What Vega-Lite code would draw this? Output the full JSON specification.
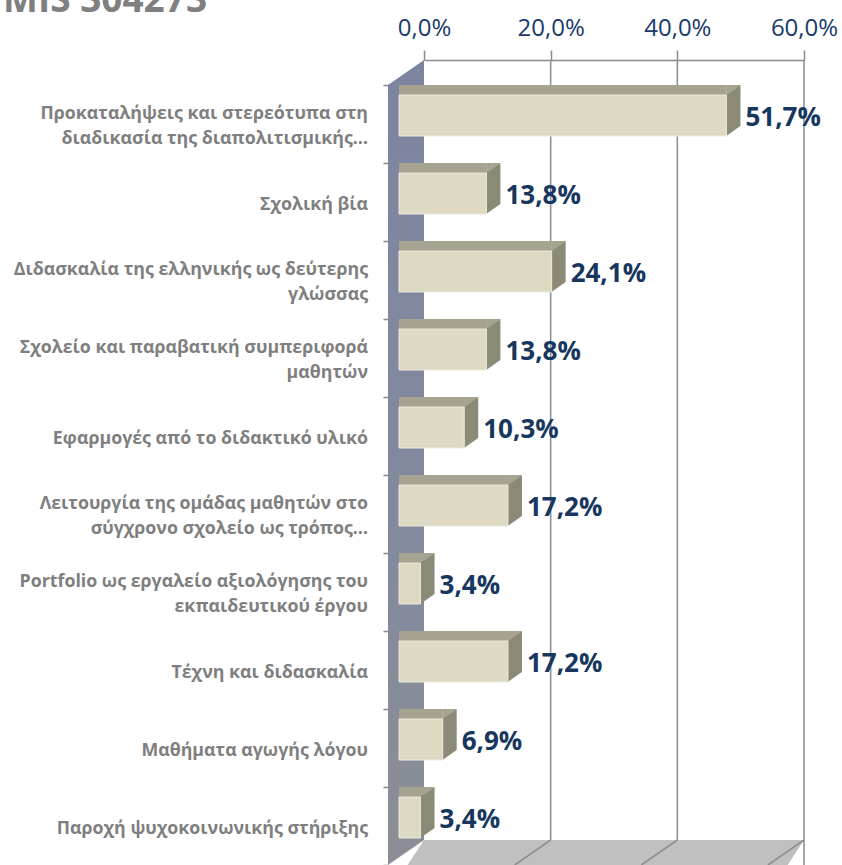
{
  "$schema": "https://vega.github.io/schema/vega-lite/v6.json",
  "width": 380,
  "height": 780,
  "autosize": {"type": "none"},
  "padding": {"left": 424, "top": 85, "right": 38, "bottom": 0},
  "background": "white",
  "title": {
    "text": "MIS 304273",
    "anchor": "start",
    "frame": "group",
    "font": "Open Sans",
    "fontSize": 37,
    "fontWeight": "bold",
    "color": "#7f7f7f",
    "baseline": "alphabetic",
    "dx": -421,
    "dy": 33,
    "offset": 0
  },
  "datasets": {
    "topics": [
      {"topic": "Προκαταλήψεις και στερεότυπα στη διαδικασία της διαπολιτισμικής…", "l1": "Προκαταλήψεις και στερεότυπα στη", "l2": "διαδικασία της διαπολιτισμικής…", "pct": 51.7, "label": "51,7%"},
      {"topic": "Σχολική βία", "l1": "Σχολική βία", "l2": "", "pct": 13.8, "label": "13,8%"},
      {"topic": "Διδασκαλία της ελληνικής ως δεύτερης γλώσσας", "l1": "Διδασκαλία της ελληνικής ως δεύτερης", "l2": "γλώσσας", "pct": 24.1, "label": "24,1%"},
      {"topic": "Σχολείο και παραβατική συμπεριφορά μαθητών", "l1": "Σχολείο και παραβατική συμπεριφορά", "l2": "μαθητών", "pct": 13.8, "label": "13,8%"},
      {"topic": "Εφαρμογές από το διδακτικό υλικό", "l1": "Εφαρμογές από το διδακτικό υλικό", "l2": "", "pct": 10.3, "label": "10,3%"},
      {"topic": "Λειτουργία της ομάδας μαθητών στο σύγχρονο σχολείο ως τρόπος…", "l1": "Λειτουργία της ομάδας μαθητών στο", "l2": "σύγχρονο σχολείο ως τρόπος…", "pct": 17.2, "label": "17,2%"},
      {"topic": "Portfolio ως εργαλείο αξιολόγησης του εκπαιδευτικού έργου", "l1": "Portfolio ως εργαλείο αξιολόγησης του", "l2": "εκπαιδευτικού έργου", "pct": 3.4, "label": "3,4%"},
      {"topic": "Τέχνη και διδασκαλία", "l1": "Τέχνη και διδασκαλία", "l2": "", "pct": 17.2, "label": "17,2%"},
      {"topic": "Μαθήματα αγωγής λόγου", "l1": "Μαθήματα αγωγής λόγου", "l2": "", "pct": 6.9, "label": "6,9%"},
      {"topic": "Παροχή ψυχοκοινωνικής στήριξης", "l1": "Παροχή ψυχοκοινωνικής στήριξης", "l2": "", "pct": 3.4, "label": "3,4%"}
    ],
    "grid": [{"g": 20}, {"g": 40}, {"g": 60}],
    "frame": [{"part": "box"}]
  },
  "layer": [
    {
      "data": {"name": "grid"},
      "mark": {"type": "rule", "color": "#8a909c", "strokeWidth": 1.6, "yOffset": -25, "y2Offset": -25},
      "encoding": {"x": {"field": "g", "type": "quantitative", "scale": {"domain": [0, 60], "nice": false}}}
    },
    {
      "data": {"name": "frame"},
      "mark": {
        "type": "point", "filled": true, "opacity": 1, "color": "#c0c0c0", "strokeWidth": 0,
        "size": 640000,
        "shape": "M0,0.9125L0.95,0.9125L0.86,1.05L-0.09,1.05Z"
      },
      "encoding": {"x": {"datum": 0, "type": "quantitative"}}
    },
    {
      "data": {"name": "frame"},
      "mark": {
        "type": "point", "filled": false, "opacity": 1, "stroke": "#8c8f96", "strokeWidth": 1.6,
        "size": 640000,
        "shape": "M0.3167,0.9125L0.2267,0.975M0.6333,0.9125L0.5433,0.975M0.95,0.9125L0.86,0.975"
      },
      "encoding": {"x": {"datum": 0, "type": "quantitative"}}
    },
    {
      "data": {"name": "frame"},
      "mark": {
        "type": "point", "filled": true, "opacity": 1, "strokeWidth": 0,
        "size": 640000,
        "shape": "M0,-1.0375L0,0.9125L-0.09,0.975L-0.09,-0.975Z",
        "color": {
          "gradient": "linear", "x1": 0, "y1": 0, "x2": 0, "y2": 1,
          "stops": [
            {"offset": 0, "color": "#7d84a0"},
            {"offset": 0.6, "color": "#838a9e"},
            {"offset": 1, "color": "#8b8e95"}
          ]
        }
      },
      "encoding": {"x": {"datum": 0, "type": "quantitative"}}
    },
    {
      "data": {"name": "topics"},
      "mark": {"type": "bar", "color": "#a6a491", "size": 10, "xOffset": -25, "x2Offset": -11, "yOffset": -34, "y2Offset": -34},
      "encoding": {
        "y": {"field": "topic", "type": "nominal", "sort": null},
        "x": {"field": "pct", "type": "quantitative"}
      }
    },
    {
      "data": {"name": "topics"},
      "mark": {"type": "point", "filled": true, "opacity": 1, "color": "#a6a491", "strokeWidth": 0, "size": 6400,
        "shape": "M-0.63,-0.725L-0.27,-0.975L-0.27,-0.725Z"},
      "encoding": {
        "y": {"field": "topic", "type": "nominal", "sort": null},
        "x": {"datum": 0, "type": "quantitative"}
      }
    },
    {
      "data": {"name": "topics"},
      "mark": {"type": "point", "filled": true, "opacity": 1, "color": "#a6a491", "strokeWidth": 0, "size": 6400,
        "shape": "M-0.63,-0.975L-0.27,-0.975L-0.63,-0.72Z"},
      "encoding": {
        "y": {"field": "topic", "type": "nominal", "sort": null},
        "x": {"field": "pct", "type": "quantitative"}
      }
    },
    {
      "data": {"name": "topics"},
      "mark": {"type": "point", "filled": true, "opacity": 1, "color": "#8b8a77", "strokeWidth": 0, "size": 6400,
        "shape": "M-0.63,-0.725L-0.275,-0.975L-0.275,0.05L-0.63,0.3Z"},
      "encoding": {
        "y": {"field": "topic", "type": "nominal", "sort": null},
        "x": {"field": "pct", "type": "quantitative"}
      }
    },
    {
      "data": {"name": "topics"},
      "mark": {"type": "bar", "color": "#ddd9c3", "stroke": "#ece9dc", "strokeWidth": 1, "size": 41, "xOffset": -25, "x2Offset": -25, "yOffset": -8.5, "y2Offset": -8.5},
      "encoding": {
        "y": {"field": "topic", "type": "nominal", "sort": null},
        "x": {"field": "pct", "type": "quantitative"}
      }
    },
    {
      "data": {"name": "topics"},
      "mark": {"type": "text", "align": "left", "baseline": "middle", "font": "Open Sans", "fontSize": 26, "fontWeight": "bold", "color": "#17375e", "xOffset": -6, "yOffset": -6},
      "encoding": {
        "y": {"field": "topic", "type": "nominal", "sort": null},
        "x": {"field": "pct", "type": "quantitative"},
        "text": {"field": "label"}
      }
    },
    {
      "data": {"name": "topics"},
      "transform": [{"filter": "datum.l2 == ''"}],
      "mark": {"type": "text", "align": "right", "baseline": "middle", "font": "Open Sans", "fontSize": 17.8, "fontWeight": "bold", "color": "#7f7f7f", "xOffset": -56, "yOffset": 3},
      "encoding": {
        "y": {"field": "topic", "type": "nominal", "sort": null},
        "x": {"datum": 0, "type": "quantitative"},
        "text": {"field": "l1"}
      }
    },
    {
      "data": {"name": "topics"},
      "transform": [{"filter": "datum.l2 != ''"}],
      "mark": {"type": "text", "align": "right", "baseline": "middle", "font": "Open Sans", "fontSize": 17.8, "fontWeight": "bold", "color": "#7f7f7f", "xOffset": -56, "yOffset": -10},
      "encoding": {
        "y": {"field": "topic", "type": "nominal", "sort": null},
        "x": {"datum": 0, "type": "quantitative"},
        "text": {"field": "l1"}
      }
    },
    {
      "data": {"name": "topics"},
      "transform": [{"filter": "datum.l2 != ''"}],
      "mark": {"type": "text", "align": "right", "baseline": "middle", "font": "Open Sans", "fontSize": 17.8, "fontWeight": "bold", "color": "#7f7f7f", "xOffset": -56, "yOffset": 15},
      "encoding": {
        "y": {"field": "topic", "type": "nominal", "sort": null},
        "x": {"datum": 0, "type": "quantitative"},
        "text": {"field": "l2"}
      }
    }
  ],
  "encoding": {
    "x": {
      "type": "quantitative",
      "scale": {"domain": [0, 60], "nice": false, "zero": true},
      "axis": {
        "orient": "top",
        "title": null,
        "values": [0, 20, 40, 60],
        "labelExpr": "replace(format(datum.value, '.1f'), '.', ',') + '%'",
        "offset": 25,
        "grid": false,
        "domainColor": "#8a8a8a",
        "domainWidth": 1.5,
        "tickColor": "#8a8a8a",
        "tickWidth": 1.5,
        "tickSize": 10,
        "labelPadding": 10,
        "labelFont": "Open Sans",
        "labelFontSize": 24,
        "labelColor": "#1a3a6c",
        "labelFlush": false
      }
    },
    "y": {
      "type": "nominal",
      "sort": null,
      "scale": {"paddingInner": 0, "paddingOuter": 0},
      "axis": {
        "title": null,
        "offset": 36,
        "domain": false,
        "tickBand": "extent",
        "tickSize": 5,
        "tickColor": "#8a8a8a",
        "tickWidth": 1.5,
        "labels": false
      }
    }
  },
  "config": {
    "view": {"stroke": null},
    "axis": {"grid": false}
  }
}
